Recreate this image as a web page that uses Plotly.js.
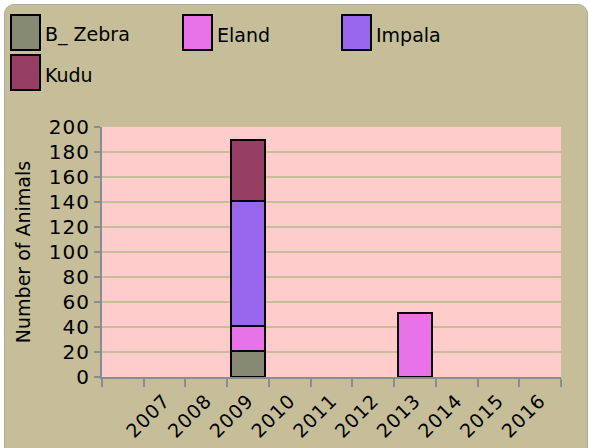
<!DOCTYPE html>
<html>
<head>
<meta charset="utf-8">
<script src="https://cdn.plot.ly/plotly-3.0.1.min.js"></script>
<style>
  html, body { margin: 0; padding: 0; background: #ffffff; }
  #bg { position: absolute; left: 4px; top: 4px; width: 582px; height: 452px;
        border-radius: 10px; border: 1px solid #a9a9a9; background: #C6BE98; }
  #chart { position: absolute; left: 0; top: 0; width: 589px; height: 448px; }
  #chart .ytick text { letter-spacing: 1px; }
  #chart .xtick text { letter-spacing: 1px; }
</style>
</head>
<body>
<div id="bg"></div>
<div id="chart"></div>
<script>
// ---- data ----
const years = [2007, 2008, 2009, 2010, 2011, 2012, 2013, 2014, 2015, 2016];
const zebra  = [null, null, 21,  null, null, null, null, null, null, null];
const eland  = [null, null, 20,  null, null, null, 51,   null, null, null];
const impala = [null, null, 100, null, null, null, null, null, null, null];
const kudu   = [null, null, 49,  null, null, null, null, null, null, null];
const seriesNames  = ["B_ Zebra", "Eland", "Impala", "Kudu"];
const seriesValues = [zebra, eland, impala, kudu];
const seriesColors = ["#868A72", "#E872E8", "#9966EE", "#973E64"];
const yTitle = "Number of Animals";

// ---- geometry helpers (pixel -> paper) ----
const W = 589, H = 448;
const mL = 102, mR = 28, mT = 127, mB = 71;
const pw = W - mL - mR, ph = H - mT - mB;
const xp = px => (px - mL) / pw;
const yp = py => (H - mB - py) / ph;

const traces = seriesNames.map((n, i) => ({
  type: "bar",
  name: n,
  x: years,
  y: seriesValues[i],
  width: 0.8,
  marker: { color: seriesColors[i], line: { color: "#000000", width: 2 } },
  showlegend: false,
  hoverinfo: "skip"
}));

// custom legend (large boxes) built from series arrays
const legendPos = [[11, 15], [183, 15], [342, 15], [11, 55]];
const shapes = [], annotations = [];
seriesNames.forEach((n, i) => {
  const [lx, ly] = legendPos[i];
  shapes.push({
    type: "rect", xref: "paper", yref: "paper",
    x0: xp(lx), x1: xp(lx + 29), y0: yp(ly), y1: yp(ly + 35),
    fillcolor: seriesColors[i], line: { color: "#000000", width: 2 }
  });
  annotations.push({
    xref: "paper", yref: "paper", x: xp(lx + 32), y: yp(ly + 20),
    xanchor: "left", yanchor: "middle", showarrow: false, text: n,
    font: { family: "DejaVu Sans", size: 19, color: "#000000" }
  });
});

const layout = {
  width: W, height: H,
  margin: { l: mL, r: mR, t: mT, b: mB, pad: 0 },
  paper_bgcolor: "rgba(0,0,0,0)",
  plot_bgcolor: "#FFCCCC",
  barmode: "stack",
  showlegend: false,
  font: { family: "DejaVu Sans", color: "#000000" },
  xaxis: {
    type: "linear",
    range: [2005.5, 2016.5],
    tickvals: years, ticktext: years.map(String),
    tickangle: -45,
    ticks: "outside", ticklen: 3, tickcolor: "rgba(0,0,0,0)",
    tickfont: { family: "DejaVu Sans", size: 19, color: "#000000" },
    showgrid: false, zeroline: false,
    showline: true, linecolor: "#8c8c8c", linewidth: 2,
    minor: { tick0: 2005.5, dtick: 1, ticks: "outside", ticklen: 8, tickcolor: "#8c8c8c", tickwidth: 2, showgrid: false },
    fixedrange: true
  },
  yaxis: {
    range: [0, 200], dtick: 20, tick0: 0,
    ticks: "outside", ticklen: 6, tickcolor: "#8c8c8c", tickwidth: 2,
    tickfont: { family: "DejaVu Sans", size: 20, color: "#000000" },
    showgrid: true, gridcolor: "#C6BE98", gridwidth: 2,
    zeroline: false,
    showline: true, linecolor: "#8c8c8c", linewidth: 2,
    title: { text: yTitle, font: { family: "DejaVu Sans", size: 19, color: "#000000" }, standoff: 16 },
    fixedrange: true
  },
  shapes: shapes,
  annotations: annotations
};

Plotly.newPlot("chart", traces, layout, { displayModeBar: false, staticPlot: true });
</script>
</body>
</html>
